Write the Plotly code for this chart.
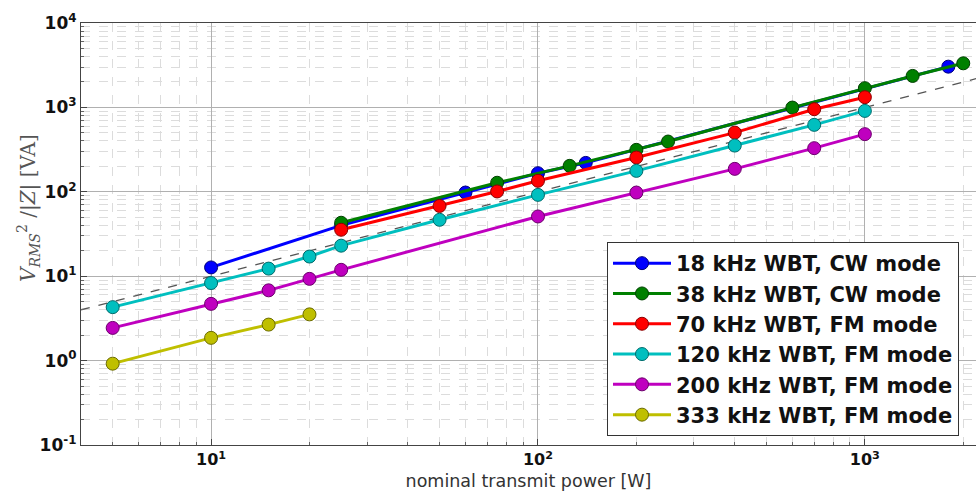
import plotly.graph_objects as go

# ---- data ----
p18 = [10, 25, 60, 100, 140, 1800]
v18 = [12.7, 40, 98, 166, 220, 3040]

p38 = [25, 75, 125, 200, 250, 600, 1000, 1400, 2000]
v38 = [43, 128, 203, 314, 394, 995, 1690, 2360, 3330]

p70 = [25, 50, 75, 100, 200, 400, 700, 1000]
v70 = [35.5, 68, 101, 135, 255, 503, 952, 1320]

p120 = [5, 10, 15, 20, 25, 50, 100, 200, 400, 700, 1000]
v120 = [4.3, 8.3, 12.3, 17.1, 23, 46.6, 92, 177, 353, 621, 909]

p200 = [5, 10, 15, 20, 25, 100, 200, 400, 700, 1000]
v200 = [2.44, 4.7, 6.8, 9.3, 11.9, 51, 98, 187, 329, 482]

p333 = [5, 10, 15, 20]
v333 = [0.92, 1.86, 2.67, 3.53]

ref_x = [4, 2500]
ref_y = [4, 2500]

names = ["18 kHz WBT, CW mode", "38 kHz WBT, CW mode", "70 kHz WBT, FM mode",
         "120 kHz WBT, FM mode", "200 kHz WBT, FM mode", "333 kHz WBT, FM mode"]
colors = ["#0000ff", "#008000", "#ff0000", "#00bfbf", "#bf00bf", "#bfbf00"]
edge = ["#00007a", "#004000", "#8a0000", "#006b6b", "#6b006b", "#6b6b00"]

xtick_vals = [10, 100, 1000]
xtick_text = ["<b>10<sup>1</sup></b>", "<b>10<sup>2</sup></b>", "<b>10<sup>3</sup></b>"]
ytick_vals = [0.1, 1, 10, 100, 1000, 10000]
ytick_text = ["<b>10<sup>-1</sup></b>", "<b>10<sup>0</sup></b>", "<b>10<sup>1</sup></b>",
              "<b>10<sup>2</sup></b>", "<b>10<sup>3</sup></b>", "<b>10<sup>4</sup></b>"]

fig = go.Figure()

# reference dashed line y = x
fig.add_trace(go.Scatter(x=ref_x, y=ref_y, mode="lines",
                         line=dict(color="#555555", width=1.3, dash="dash"),
                         showlegend=False, hoverinfo="skip"))

series = [(p18, v18), (p38, v38), (p70, v70), (p120, v120), (p200, v200), (p333, v333)]
for i, (px, vy) in enumerate(series):
    fig.add_trace(go.Scatter(
        x=px, y=vy, mode="lines+markers", name=names[i],
        line=dict(color=colors[i], width=3),
        marker=dict(color=colors[i], size=13, line=dict(color=edge[i], width=1)),
    ))

grid_major = "#b0b0b0"
grid_minor = "#dcdcdc"

fig.update_xaxes(
    type="log", range=[0.60206, 3.34],
    tickvals=xtick_vals, ticktext=xtick_text,
    tickfont=dict(family="DejaVu Sans", size=16, color="#111111"),
    ticks="inside", ticklen=6, tickcolor="#444444",
    showgrid=True, gridcolor=grid_major, gridwidth=1,
    minor=dict(dtick="D1", showgrid=True, gridcolor=grid_minor, griddash="dash",
               ticks="inside", ticklen=3, tickcolor="#666666"),
    showline=True, linecolor="#444444", linewidth=1.2, mirror=True,
    zeroline=False,
    title=dict(text="nominal transmit power [W]",
               font=dict(family="DejaVu Sans", size=17.5, color="#333333"), standoff=6),
)
fig.update_yaxes(
    type="log", range=[-1, 4],
    tickvals=ytick_vals, ticktext=ytick_text,
    tickfont=dict(family="DejaVu Sans", size=17, color="#111111"),
    ticks="inside", ticklen=6, tickcolor="#444444",
    showgrid=True, gridcolor=grid_major, gridwidth=1,
    minor=dict(dtick="D1", showgrid=True, gridcolor=grid_minor, griddash="dash",
               ticks="inside", ticklen=3, tickcolor="#666666"),
    showline=True, linecolor="#444444", linewidth=1.2, mirror=True,
    zeroline=False,
)

fig.add_annotation(
    text="<i>V<sub>RMS</sub></i><sup>2</sup> /|<i>Z</i>| [VA]",
    xref="paper", yref="paper", x=-53 / 895, y=(445 - 208) / 422,
    xanchor="center", yanchor="middle", textangle=-90, showarrow=False,
    font=dict(family="DejaVu Serif", size=20, color="#555555"),
)

fig.update_layout(
    width=976, height=497,
    margin=dict(l=81, r=0, t=23, b=52),
    paper_bgcolor="white", plot_bgcolor="white",
    showlegend=True,
    legend=dict(
        x=(607 - 81) / 895, y=(445 - 242) / 422, xanchor="left", yanchor="top",
        bgcolor="white", bordercolor="#333333", borderwidth=1,
        font=dict(family="DejaVu Sans", size=21, color="#111111", weight="bold"),
        itemwidth=58,
    ),
)

fig.write_html("out.html")
